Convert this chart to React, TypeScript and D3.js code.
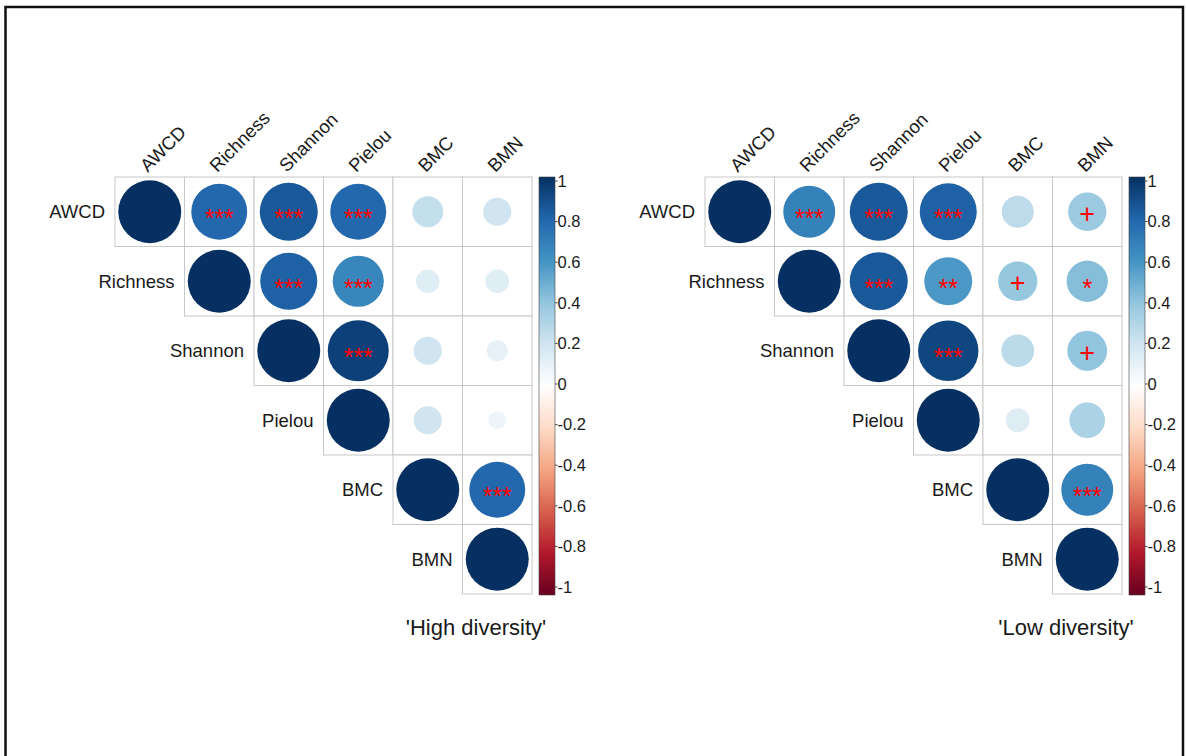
import React from 'react';
import * as d3 from 'd3';

const variables = ['AWCD', 'Richness', 'Shannon', 'Pielou', 'BMC', 'BMN'];

// upper triangle, each row starts at the diagonal
const highDiversityR = [
  [1, 0.79, 0.85, 0.79, 0.24, 0.2],
  [1, 0.82, 0.66, 0.14, 0.14],
  [1, 0.94, 0.2, 0.11],
  [1, 0.2, 0.08],
  [1, 0.79],
  [1],
];
const highDiversitySig = [
  ['', '***', '***', '***', '', ''],
  ['', '***', '***', '', ''],
  ['', '***', '', ''],
  ['', '', ''],
  ['', '***'],
  [''],
];

const lowDiversityR = [
  [1, 0.68, 0.85, 0.82, 0.26, 0.37],
  [1, 0.85, 0.58, 0.39, 0.43],
  [1, 0.92, 0.27, 0.4],
  [1, 0.145, 0.32],
  [1, 0.68],
  [1],
];
const lowDiversitySig = [
  ['', '***', '***', '***', '', '+'],
  ['', '***', '**', '+', '*'],
  ['', '***', '', '+'],
  ['', '', ''],
  ['', '***'],
  [''],
];

const legendTicks = [1, 0.8, 0.6, 0.4, 0.2, 0, -0.2, -0.4, -0.6, -0.8, -1];

// corrplot RdBu palette, -1 .. 1
const palette = [
  '#67001F', '#B2182B', '#D6604D', '#F4A582', '#FDDBC7', '#FFFFFF',
  '#D1E5F0', '#92C5DE', '#4393C3', '#2166AC', '#053061',
];

const FONT = "'Liberation Sans', Arial, sans-serif";
const CELL = 69.5;
const TOP = 177;

const color = d3
  .scaleLinear<string>()
  .domain(palette.map((_, i) => -1 + i * 0.2))
  .range(palette);

const radius = d3.scaleSqrt().domain([0, 1]).range([0, CELL * 0.453]);

interface PanelProps {
  x0: number;
  values: number[][];
  sig: string[][];
  title: string;
  id: string;
}

const Panel: React.FC<PanelProps> = ({ x0, values, sig, title, id }) => {
  const n = variables.length;
  const x = d3.scaleBand().domain(variables).range([x0, x0 + n * CELL]);
  const y = d3.scaleBand().domain(variables).range([TOP, TOP + n * CELL]);
  const bw = x.bandwidth();

  const cbX = x0 + n * CELL + 7;
  const cbW = 16;
  const cbBottom = TOP + n * CELL + 1;
  const tickY = d3.scaleLinear().domain([1, -1]).range([TOP + 4, cbBottom - 8]);

  const cells: { i: number; j: number; v: number; s: string }[] = [];
  values.forEach((row, i) =>
    row.forEach((v, k) => cells.push({ i, j: i + k, v, s: sig[i][k] }))
  );

  return (
    <g>
      {/* grid */}
      {cells.map((c) => (
        <rect
          key={`g${c.i}-${c.j}`}
          x={x(variables[c.j])}
          y={y(variables[c.i])}
          width={bw}
          height={bw}
          fill="white"
          stroke="#c8c8c8"
          strokeWidth={1}
        />
      ))}
      {/* circles */}
      {cells.map((c) => (
        <circle
          key={`c${c.i}-${c.j}`}
          cx={(x(variables[c.j]) || 0) + bw / 2}
          cy={(y(variables[c.i]) || 0) + bw / 2}
          r={radius(Math.abs(c.v))}
          fill={color(c.v)}
        />
      ))}
      {/* significance marks */}
      {cells
        .filter((c) => c.s)
        .map((c) => {
          const cx = (x(variables[c.j]) || 0) + bw / 2;
          const cy = (y(variables[c.i]) || 0) + bw / 2;
          const plus = c.s === '+';
          return (
            <text
              key={`s${c.i}-${c.j}`}
              x={cx}
              y={plus ? cy + 11 : cy + 15.5}
              textAnchor="middle"
              fontFamily={FONT}
              fontSize={plus ? 27 : 25}
              fill="#ff0000"
            >
              {c.s}
            </text>
          );
        })}
      {/* row labels */}
      {variables.map((v) => (
        <text
          key={`r${v}`}
          x={(x(v) || 0) - 10}
          y={(y(v) || 0) + bw / 2}
          dy="0.35em"
          textAnchor="end"
          fontFamily={FONT}
          fontSize={18.5}
          fill="#1a1a1a"
        >
          {v}
        </text>
      ))}
      {/* column labels */}
      {variables.map((v) => {
        const ax = (x(v) || 0) + bw / 2 - 2;
        const ay = TOP - 4;
        return (
          <text
            key={`h${v}`}
            transform={`translate(${ax},${ay}) rotate(-45)`}
            fontFamily={FONT}
            fontSize={18.5}
            fill="#1a1a1a"
          >
            {v}
          </text>
        );
      })}
      {/* color legend */}
      <defs>
        <linearGradient id={id} x1="0" y1="0" x2="0" y2="1">
          {palette
            .slice()
            .reverse()
            .map((c, i) => (
              <stop key={c} offset={`${(i / (palette.length - 1)) * 100}%`} stopColor={c} />
            ))}
        </linearGradient>
      </defs>
      <rect
        x={cbX}
        y={TOP}
        width={cbW}
        height={cbBottom - TOP}
        fill={`url(#${id})`}
        stroke="#444"
        strokeWidth={0.6}
      />
      {legendTicks.map((t) => (
        <g key={`t${t}`}>
          <line
            x1={cbX + cbW}
            x2={cbX + cbW + 2.5}
            y1={tickY(t)}
            y2={tickY(t)}
            stroke="#444"
            strokeWidth={1}
          />
          <text
            x={cbX + cbW + 2.5}
            y={tickY(t)}
            dy="0.35em"
            fontFamily={FONT}
            fontSize={16.5}
            fill="#1a1a1a"
          >
            {t}
          </text>
        </g>
      ))}
      {/* title */}
      <text
        x={x0 + 361}
        y={635}
        textAnchor="middle"
        fontFamily={FONT}
        fontSize={22}
        fill="#1a1a1a"
      >
        {title}
      </text>
    </g>
  );
};

export default function App() {
  return (
    <svg
      width={1186}
      height={756}
      style={{ position: 'absolute', left: 0, top: 0, background: 'white' }}
    >
      <rect x={0} y={0} width={1186} height={756} fill="white" />
      <rect x={5.5} y={7} width={1177.5} height={800} fill="none" stroke="#111" strokeWidth={2.5} />
      <Panel x0={115} values={highDiversityR} sig={highDiversitySig} title="'High diversity'" id="cbHigh" />
      <Panel x0={705} values={lowDiversityR} sig={lowDiversitySig} title="'Low diversity'" id="cbLow" />
    </svg>
  );
}
